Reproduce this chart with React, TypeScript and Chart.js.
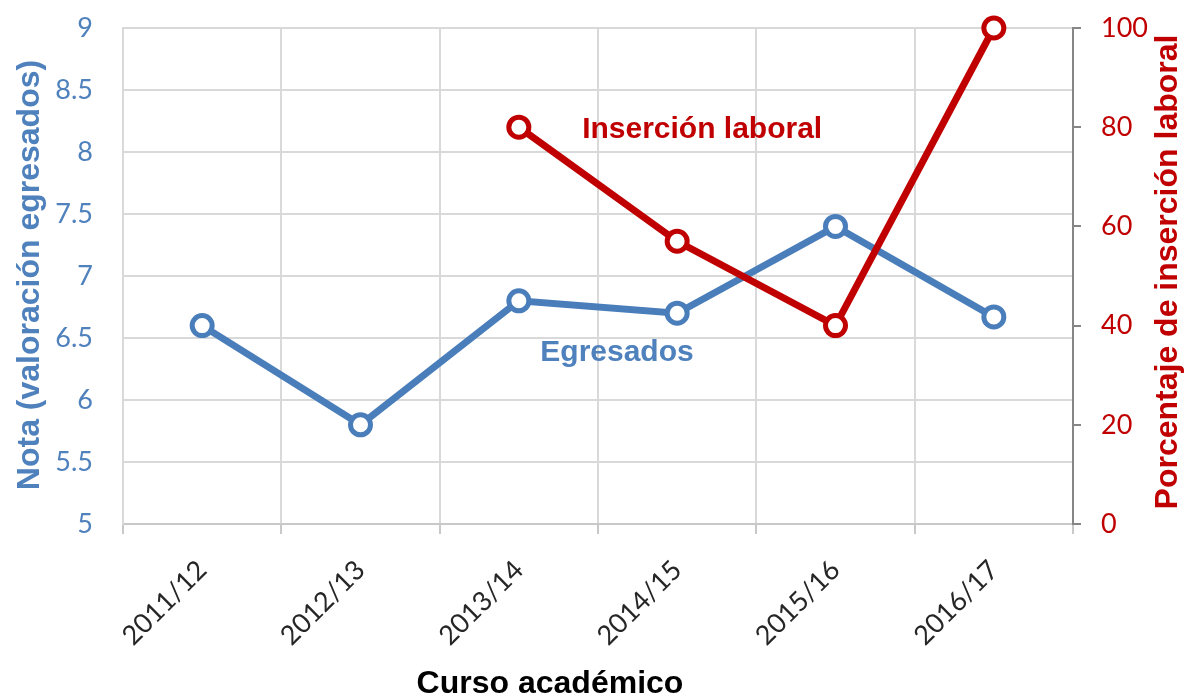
import React, { useEffect, useRef } from "react";
import { Chart, registerables } from "chart.js";

Chart.register(...registerables);

const categories = ["2011/12", "2012/13", "2013/14", "2014/15", "2015/16", "2016/17"];
const egresados = [6.6, 5.8, 6.8, 6.7, 7.4, 6.67];
const insercion: (number | null)[] = [null, null, 80, 57, 40, 100];

const leftTitle = "Nota (valoración egresados)";
const rightTitle = "Porcentaje de inserción laboral";
const xTitle = "Curso académico";
const redLabel = "Inserción laboral";
const blueLabel = "Egresados";

const BLUE = "#4a7ebb";
const BLUE_TEXT = "#4f81bd";
const RED = "#c00000";
const GRID = "#d9d9d9";
const TICK_FONT = "Lato";
const TITLE_FONT = "'Liberation Sans', Arial, sans-serif";

const textPlugin = {
  id: "texts",
  afterDraw(chart: any) {
    const ctx = chart.ctx;
    ctx.save();
    ctx.font = `bold 32px ${TITLE_FONT}`;
    ctx.textAlign = "center";
    ctx.textBaseline = "middle";
    // left title
    ctx.save();
    ctx.translate(30, 275);
    ctx.rotate(-Math.PI / 2);
    ctx.fillStyle = BLUE_TEXT;
    ctx.fillText(leftTitle, 0, 0);
    ctx.restore();
    // right title
    ctx.save();
    ctx.translate(1168, 272);
    ctx.rotate(-Math.PI / 2);
    ctx.fillStyle = RED;
    ctx.fillText(rightTitle, 0, 0);
    ctx.restore();
    // x title
    ctx.fillStyle = "#000000";
    ctx.fillText(xTitle, 550, 684);
    // series labels
    const xs = chart.scales.x;
    const yl = chart.scales.y;
    const yr = chart.scales.y1;
    ctx.font = `bold 30px ${TITLE_FONT}`;
    ctx.fillStyle = RED;
    ctx.fillText(redLabel, xs.getPixelForValue(3) + 25, yr.getPixelForValue(79.5));
    ctx.fillStyle = BLUE_TEXT;
    ctx.fillText(blueLabel, (xs.getPixelForValue(2) + xs.getPixelForValue(3)) / 2 + 19, yl.getPixelForValue(6.38));
    ctx.restore();
  },
};

export default function App() {
  const ref = useRef<HTMLCanvasElement | null>(null);
  useEffect(() => {
    document.body.style.margin = "0";
    const canvas = ref.current!;
    const chart = new Chart(canvas, {
      type: "line",
      data: {
        labels: categories,
        datasets: [
          {
            label: redLabel,
            data: insercion,
            yAxisID: "y1",
            borderColor: RED,
            borderWidth: 7,
            pointRadius: 10,
            pointBorderWidth: 5,
            pointBackgroundColor: "#ffffff",
            pointBorderColor: RED,
            clip: false as any,
            order: 1,
          },
          {
            label: blueLabel,
            data: egresados,
            yAxisID: "y",
            borderColor: BLUE,
            borderWidth: 7,
            pointRadius: 10,
            pointBorderWidth: 5,
            pointBackgroundColor: "#ffffff",
            pointBorderColor: BLUE,
            clip: false as any,
            order: 2,
          },
        ],
      },
      options: {
        responsive: false,
        animation: false,
        devicePixelRatio: 1,
        layout: { padding: { top: 28, left: 0, right: 0, bottom: 0 } },
        plugins: { legend: { display: false }, tooltip: { enabled: false } },
        scales: {
          x: {
            type: "category",
            offset: true,
            grid: {
              offset: true,
              color: GRID,
              lineWidth: 2,
              drawTicks: true,
              tickLength: 10,
              tickColor: "#c8c8c8",
            },
            border: { display: true, color: "#c8c8c8", width: 2 },
            ticks: {
              minRotation: 45,
              maxRotation: 45,
              autoSkip: false,
              padding: 20,
              color: "#262626",
              font: { family: TICK_FONT, size: 27 },
            },
            afterFit(scale: any) {
              scale.height = 176;
              scale.paddingLeft = 0;
              scale.paddingRight = 0;
            },
          },
          y: {
            position: "left",
            min: 5,
            max: 9,
            ticks: {
              stepSize: 0.5,
              padding: 30,
              color: BLUE_TEXT,
              font: { family: TICK_FONT, size: 27 },
              callback: (v: any) => String(v),
            },
            grid: { color: GRID, lineWidth: 2, drawTicks: false },
            border: { display: true, color: GRID, width: 2 },
            afterFit(scale: any) {
              scale.width = 123;
              scale.paddingTop = 0;
              scale.paddingBottom = 0;
            },
          },
          y1: {
            position: "right",
            min: 0,
            max: 100,
            ticks: {
              stepSize: 20,
              padding: 20,
              color: RED,
              font: { family: TICK_FONT, size: 27 },
              callback: (v: any) => String(v),
            },
            grid: {
              drawOnChartArea: false,
              drawTicks: true,
              tickLength: 8,
              color: "#868686",
              lineWidth: 2,
            },
            border: { display: true, color: "#868686", width: 2 },
            afterFit(scale: any) {
              scale.width = 122;
              scale.paddingTop = 0;
              scale.paddingBottom = 0;
            },
          },
        },
      },
      plugins: [textPlugin],
    } as any);
    return () => chart.destroy();
  }, []);
  return <canvas ref={ref} width={1195} height={700} style={{ display: "block" }} />;
}
